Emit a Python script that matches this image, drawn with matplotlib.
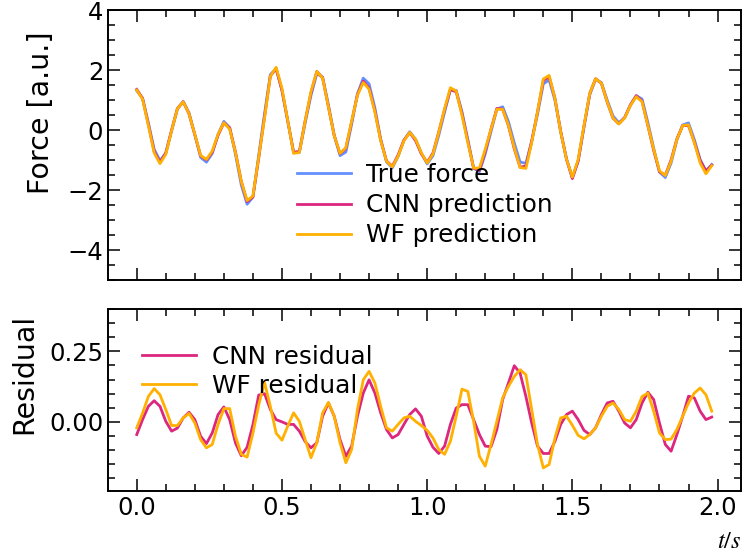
import numpy as np
import matplotlib.pyplot as plt
from matplotlib.ticker import MultipleLocator

# sample times (s)
t = np.arange(100) * 0.02

# WF prediction (the orange line, drawn on top)
wf_prediction = [
    1.33, 1.03, 0.15, -0.76, -1.12, -0.81, -0.02, 0.71, 0.94, 0.54,
    -0.15, -0.85, -0.98, -0.70, -0.14, 0.24, 0.03, -0.76, -1.72, -2.35,
    -2.20, -0.90, 0.40, 1.79, 2.09, 1.39, 0.31, -0.78, -0.75, 0.30,
    1.28, 1.95, 1.73, 0.77, -0.19, -0.78, -0.59, 0.29, 1.16, 1.58,
    1.36, 0.60, -0.36, -1.04, -1.23, -0.87, -0.36, -0.08, -0.31, -0.76,
    -1.10, -0.80, -0.08, 0.71, 1.41, 1.30, 0.49, -0.42, -1.27, -1.27,
    -0.64, 0.03, 0.69, 0.69, 0.15, -0.59, -1.25, -1.28, -0.42, 0.60,
    1.70, 1.82, 1.05, -0.08, -0.98, -1.57, -0.98, 0.15, 1.22, 1.71,
    1.56, 0.94, 0.40, 0.20, 0.40, 0.82, 1.11, 0.94, 0.15, -0.64,
    -1.36, -1.52, -1.04, -0.31, 0.15, 0.17, -0.42, -1.10, -1.46, -1.19,
]

cnn_residual = [
    -0.045, 0.008, 0.055, 0.075, 0.055, 0.002, -0.033, -0.022, 0.014, 0.034,
    0.008, -0.051, -0.077, -0.039, 0.026, 0.053, 0.008, -0.075, -0.120, -0.090,
    -0.010, 0.095, 0.100, 0.044, 0.008, 0.000, -0.009, -0.009, -0.033, -0.070,
    -0.092, -0.074, 0.020, 0.067, 0.020, -0.063, -0.122, -0.086, 0.020, 0.102,
    0.149, 0.102, 0.032, -0.027, -0.057, -0.045, -0.009, 0.026, 0.046, 0.020,
    -0.050, -0.090, -0.112, -0.086, -0.009, 0.049, 0.061, 0.061, 0.008, -0.045,
    -0.086, -0.088, -0.027, 0.079, 0.138, 0.199, 0.173, 0.090, -0.004, -0.086,
    -0.112, -0.112, -0.069, -0.009, 0.026, 0.038, 0.008, -0.030, -0.045, -0.021,
    0.026, 0.067, 0.073, 0.038, -0.004, -0.021, 0.008, 0.067, 0.105, 0.079,
    -0.004, -0.080, -0.104, -0.045, 0.020, 0.091, 0.085, 0.038, 0.008, 0.017,
]

wf_residual = [
    -0.021, 0.031, 0.090, 0.118, 0.096, 0.044, -0.013, -0.013, 0.014, 0.030,
    -0.004, -0.063, -0.092, -0.080, -0.009, 0.047, 0.047, -0.051, -0.115, -0.125,
    -0.040, 0.060, 0.140, 0.055, -0.040, -0.065, -0.015, 0.032, 0.002, -0.063,
    -0.127, -0.074, 0.032, 0.069, 0.020, -0.074, -0.145, -0.098, 0.044, 0.149,
    0.179, 0.138, 0.055, -0.021, -0.033, -0.009, 0.014, 0.020, 0.002, -0.013,
    -0.030, -0.057, -0.098, -0.115, -0.069, 0.020, 0.116, 0.108, 0.002, -0.122,
    -0.157, -0.080, 0.002, 0.085, 0.126, 0.161, 0.185, 0.167, 0.044, -0.080,
    -0.163, -0.151, -0.057, 0.014, 0.020, -0.012, -0.048, -0.060, -0.045, -0.021,
    0.020, 0.055, 0.067, 0.044, 0.008, 0.002, 0.038, 0.090, 0.102, 0.038,
    -0.039, -0.063, -0.061, -0.027, 0.020, 0.067, 0.102, 0.120, 0.096, 0.038,
]

wf_prediction = np.array(wf_prediction)
cnn_residual = np.array(cnn_residual)
wf_residual = np.array(wf_residual)
# residual = true - prediction
true_force = wf_prediction + wf_residual
cnn_pred = true_force - cnn_residual

c_true = '#648FFF'
c_cnn = '#DC267F'
c_wf = '#FFB000'

plt.rcParams['mathtext.fontset'] = 'stix'
fs = 17.5
fs_leg = 17.8
fs_lab = 20.5

fig = plt.figure(figsize=(7.43, 5.53), dpi=100)
W, H = 743, 553
ax1 = fig.add_axes([108 / W, 1 - 280 / H, 632.5 / W, 270 / H])
ax2 = fig.add_axes([108 / W, 1 - 491 / H, 632.5 / W, 182 / H], sharex=ax1)

ax1.plot(t, true_force, color=c_true, lw=2, label='True force')
ax1.plot(t, cnn_pred, color=c_cnn, lw=2, label='CNN prediction')
ax1.plot(t, wf_prediction, color=c_wf, lw=2, label='WF prediction')
ax1.set_ylim(-5, 4)
ax1.set_ylabel('Force [a.u.]', fontsize=fs_lab)
ax1.yaxis.set_label_coords((55 - 108) / 632.5, (280 - 113) / 270)
ax1.yaxis.set_major_locator(MultipleLocator(2))
ax1.yaxis.set_minor_locator(MultipleLocator(0.5))
ax1.legend(frameon=False, fontsize=fs_leg, loc='upper left', borderpad=0,
           borderaxespad=0, handlelength=2.2, handletextpad=0.6,
           labelspacing=0.25, bbox_to_anchor=((297 - 108) / 632.5, (280 - 163) / 270))

ax2.plot(t, cnn_residual, color=c_cnn, lw=2, label='CNN residual')
ax2.plot(t, wf_residual, color=c_wf, lw=2, label='WF residual')
ax2.set_ylim(-0.245, 0.4)
ax2.set_ylabel('Residual', fontsize=fs_lab)
ax2.yaxis.set_label_coords((38 - 108) / 632.5, (491 - 374) / 182)
ax2.yaxis.set_major_locator(MultipleLocator(0.25))
ax2.yaxis.set_minor_locator(MultipleLocator(0.05))
ax2.xaxis.set_major_locator(MultipleLocator(0.5))
ax2.xaxis.set_minor_locator(MultipleLocator(0.1))
ax2.legend(frameon=False, fontsize=fs_leg, loc='upper left', borderpad=0,
           borderaxespad=0, handlelength=2.2, handletextpad=0.62,
           labelspacing=0.2, bbox_to_anchor=((142 - 108) / 632.5, (491 - 345) / 182))

for ax in (ax1, ax2):
    ax.tick_params(which='both', direction='in', top=True, right=True,
                   labelsize=fs, width=1.1)
    ax.tick_params(which='major', length=8.5)
    ax.tick_params(which='minor', length=5)
    for s in ax.spines.values():
        s.set_linewidth(1.4)
ax1.tick_params(labelbottom=False)

fig.text(741 / W, 1 - 541 / H, '$t/s$', fontsize=fs, ha='right', va='center')

fig.savefig('out.png', dpi=100)
